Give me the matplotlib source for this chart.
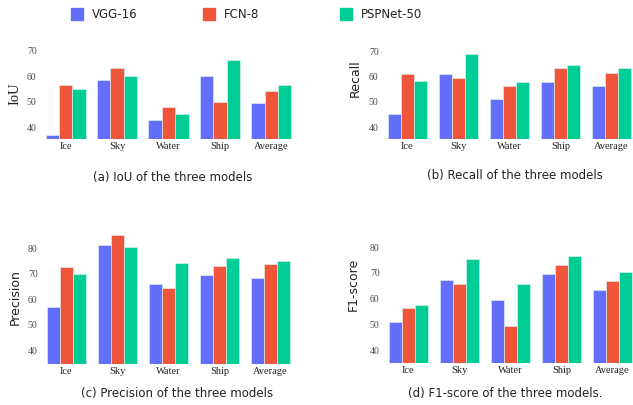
import numpy as np
import matplotlib.pyplot as plt

W, H = 633, 405

classes = ["Ice", "Sky", "Water", "Ship", "Average"]
models = ["VGG-16", "FCN-8", "PSPNet-50"]
colors = ["#636EFA", "#EF553B", "#00CC96"]

iou_vgg = [37.2, 58.6, 43.0, 60.2, 49.6]
iou_fcn = [56.4, 63.1, 48.1, 50.0, 54.4]
iou_psp = [54.9, 59.9, 45.4, 66.5, 56.6]

recall_vgg = [45.0, 60.8, 50.9, 57.9, 56.3]
recall_fcn = [60.9, 59.2, 56.4, 63.3, 61.2]
recall_psp = [58.2, 68.9, 57.6, 64.6, 63.4]

prec_vgg = [56.8, 81.2, 66.1, 69.6, 68.5]
prec_fcn = [72.7, 85.2, 64.5, 73.2, 74.0]
prec_psp = [70.0, 80.5, 74.2, 76.3, 75.0]

f1_vgg = [50.9, 67.3, 59.4, 69.6, 63.5]
f1_fcn = [56.4, 65.8, 49.2, 73.1, 67.0]
f1_psp = [57.5, 75.3, 65.6, 76.4, 70.3]

panels = [
    # series, ylabel, ylabel font, ylabel size, caption, ticks, ylim,
    # axes box in px (left, bottom, right, top), ylabel pos, caption pos
    ((iou_vgg, iou_fcn, iou_psp), "IoU", "Liberation Serif", 10.5, "(a) IoU of the three models",
     [40, 50, 60, 70], (35.5, 71), (45, 139, 292, 48), (15, 94), (173, 177)),
    ((recall_vgg, recall_fcn, recall_psp), "Recall", "DejaVu Sans", 9, "(b) Recall of the three models",
     [40, 50, 60, 70], (35.3, 71), (387, 139, 632, 48.5), (355, 78), (515, 176)),
    ((prec_vgg, prec_fcn, prec_psp), "Precision", "DejaVu Sans", 9, "(c) Precision of the three models",
     [40, 50, 60, 70, 80], (34.5, 86), (46, 364, 291, 233), (15, 297), (177, 393)),
    ((f1_vgg, f1_fcn, f1_psp), "F1-score", "DejaVu Sans", 9, "(d) F1-score of the three models.",
     [40, 50, 60, 70, 80], (35, 81), (388, 363, 633, 244.5), (353, 284), (505, 393)),
]

fig = plt.figure(figsize=(W / 100, H / 100), dpi=100)
fig.patch.set_facecolor("white")

x = np.arange(len(classes))
bw = 0.26

for series, ylab, yfam, ysize, caption, ticks, ylim, box, ylpos, cappos in panels:
    l, b, r, t = box
    ax = fig.add_axes([l / W, 1 - b / H, (r - l) / W, (b - t) / H])
    for i, (vals, c) in enumerate(zip(series, colors)):
        ax.bar(x + (i - 1) * bw, np.array(vals) - ylim[0], bw, bottom=ylim[0],
               color=c, edgecolor="#e3f7f1", linewidth=0.4)
    ax.set_xlim(-0.4, 4.4)
    ax.set_ylim(*ylim)
    ax.set_yticks(ticks)
    ax.set_yticklabels([str(v) for v in ticks], family="Liberation Serif", fontsize=7, color="#4a4a4a")
    ax.set_xticks(x)
    ax.set_xticklabels(classes, family="Liberation Serif", fontsize=7.5, color="#222222")
    ax.tick_params(length=0, axis="y", pad=6)
    ax.tick_params(length=0, axis="x", pad=2)
    for s in ax.spines.values():
        s.set_visible(False)
    fig.text(ylpos[0] / W, 1 - ylpos[1] / H, ylab, rotation=90, ha="center", va="center",
             fontsize=ysize, family=yfam, color="#222222")
    fig.text(cappos[0] / W, 1 - cappos[1] / H, caption, ha="center", va="center",
             fontsize=8.5, family="DejaVu Sans", color="#222222")

# legend across the top
leg_x = [71, 203, 340]
for name, c, lx in zip(models, colors, leg_x):
    fig.patches.append(plt.Rectangle((lx / W, 1 - 20 / H), 12 / W, 12 / H,
                                     transform=fig.transFigure, color=c, figure=fig))
    fig.text((lx + 21) / W, 1 - 15 / H, name, ha="left", va="center",
             fontsize=8.5, family="DejaVu Sans", color="#222222")

fig.savefig("out.png", dpi=100)
